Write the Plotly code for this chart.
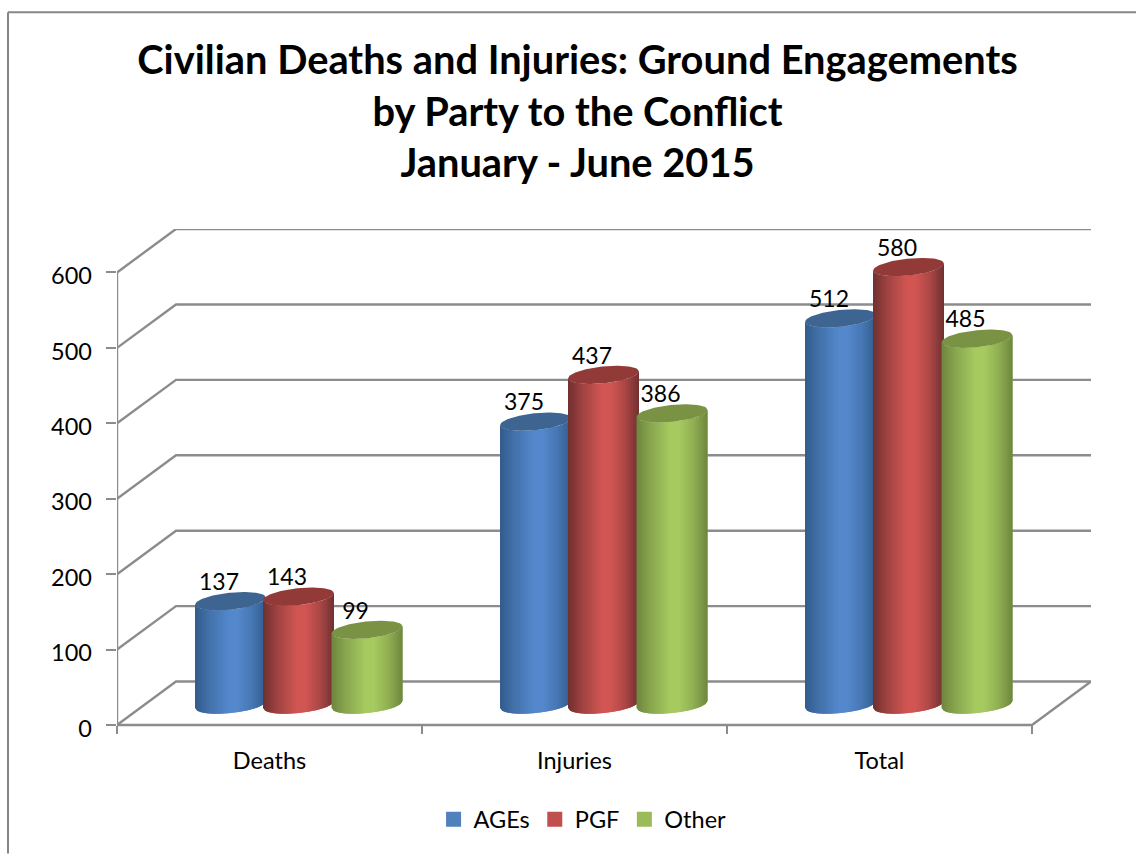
import plotly.graph_objects as go

categories = ["Deaths", "Injuries", "Total"]
series_names = ["AGEs", "PGF", "Other"]
ages = [137, 375, 512]
pgf = [143, 437, 580]
other = [99, 386, 485]
y_ticks = [0, 100, 200, 300, 400, 500, 600]
title_lines = ["Civilian Deaths and Injuries: Ground Engagements",
               "by Party to the Conflict", "January - June 2015"]

W, H = 1136, 854
PX_CAT = 305.0                        # pixels per category
PX_VAL = 0.755                        # pixels per value unit
L, T, Z = 117, 229, 725.5             # left, top, and pixel row of value 0
EXTRA = 8                             # plot box continues this far below value 0
B = Z + EXTRA
R = L + PX_CAT * len(categories) + 59
DX, DY = 59 / PX_CAT, 43.5 / PX_VAL   # depth offset in data units
GRID = "#8c8c8c"

STYLES = [
    dict(dark=(50, 92, 140), peak=(84, 136, 204), top=(62, 100, 146), swatch="#4f81bd"),
    dict(dark=(112, 48, 48), peak=(209, 86, 83), top=(146, 58, 56), swatch="#c0504d"),
    dict(dark=(110, 134, 62), peak=(166, 202, 96), top=(122, 146, 68), swatch="#9bbb59"),
]
OFFSETS = [113.5, 181.5, 250]         # cylinder centres within a category, px
A, E_B, E_S = 35.5, 8.5, 3.5          # ellipse half width, half height, tilt, px
BASE = 20.5 / PX_VAL                  # floor inset of cylinder base, data units
N_STRIPS = 36
STOPS = [(0, 0.0), (0.2, 0.48), (0.48, 1.0), (0.6, 1.0), (0.8, 0.62), (1, 0.0)]

fig = go.Figure()


def shade(t, st):
    for (t0, f0), (t1, f1) in zip(STOPS, STOPS[1:]):
        if t <= t1:
            f = f0 + (f1 - f0) * (t - t0) / (t1 - t0)
            break
    c = [round(d + (p - d) * f) for d, p in zip(st["dark"], st["peak"])]
    return f"rgb({c[0]},{c[1]},{c[2]})"


def front(u):
    return (E_B * max(0.0, 1 - u * u) ** 0.5 - E_S * u) / PX_VAL


def add_poly(xs, ys, color):
    fig.add_trace(go.Scatter(x=xs, y=ys, mode="lines", fill="toself", fillcolor=color,
                             line=dict(color=color, width=0), hoverinfo="skip",
                             showlegend=False))


# walls and floor
for v in y_ticks:
    fig.add_trace(go.Scatter(x=[0, DX, len(categories) + DX], y=[v, v + DY, v + DY],
                             mode="lines", line=dict(color=GRID, width=2.4),
                             hoverinfo="skip", showlegend=False))
fig.add_trace(go.Scatter(x=[0, 0, len(categories), len(categories) + DX],
                         y=[y_ticks[-1], 0, 0, DY], mode="lines",
                         line=dict(color=GRID, width=2.4), hoverinfo="skip", showlegend=False))

# cylinders
for ci in range(len(categories)):
    for si, values in enumerate([ages, pgf, other]):
        st = STYLES[si]
        v = values[ci]
        cx = ci + OFFSETS[si] / PX_CAT
        a = A / PX_CAT
        for k in range(N_STRIPS):
            t0 = k / N_STRIPS
            tm = (k + 1) / N_STRIPS
            t1 = min(k + 2, N_STRIPS) / N_STRIPS
            us = [2 * t - 1 for t in (t0, tm, t1)]
            xs = [cx + u * a for u in us] + [cx + u * a for u in reversed(us)]
            ys = [BASE + v - front(u) for u in us] + [BASE - front(u) for u in reversed(us)]
            add_poly(xs + xs[:1], ys + ys[:1], shade((t0 + tm) / 2, st))
        xs, ys = [], []
        n = 48
        for k in range(n + 1):
            u = -1 + 2 * k / n
            xs.append(cx + u * a)
            ys.append(BASE + v - front(u))
        for k in range(n + 1):
            u = 1 - 2 * k / n
            xs.append(cx + u * a)
            ys.append(BASE + v + (E_B * max(0.0, 1 - u * u) ** 0.5 + E_S * u) / PX_VAL)
        c = st["top"]
        add_poly(xs, ys, f"rgb({c[0]},{c[1]},{c[2]})")

# data labels
for si, values in enumerate([ages, pgf, other]):
    fig.add_trace(go.Scatter(
        x=[ci + (OFFSETS[si] - 11.5) / PX_CAT for ci in range(len(categories))],
        y=[BASE + v + 17 / PX_VAL for v in values],
        mode="text", text=[str(v) for v in values], textposition="middle center",
        textfont=dict(family="Lato", size=23, color="black"),
        cliponaxis=False, hoverinfo="skip", showlegend=False))

# legend entries
for si, name in enumerate(series_names):
    fig.add_trace(go.Scatter(x=[None], y=[None], mode="markers", name=name,
                             marker=dict(symbol="square", size=15, color=STYLES[si]["swatch"])))

# carrier for the tick-label axis (labels sit slightly below their tick marks)
fig.add_trace(go.Scatter(x=[None], y=[None], yaxis="y2", mode="markers",
                         showlegend=False, hoverinfo="skip"))

fig.add_shape(type="line", xref="paper", yref="paper", line=dict(color="#868686", width=2),
              x0=(8 - L) / (R - L), x1=(8 - L) / (R - L), y0=(B - H) / (B - T), y1=(B - 12) / (B - T))
fig.add_shape(type="line", xref="paper", yref="paper", line=dict(color="#868686", width=2),
              x0=(8 - L) / (R - L), x1=(W - L) / (R - L), y0=(B - 12) / (B - T), y1=(B - 12) / (B - T))

y_min = -EXTRA / PX_VAL
y_max = (Z - T) / PX_VAL
label_shift = 3.5 / PX_VAL
fig.update_layout(
    width=W, height=H, autosize=False, margin=dict(l=L, r=W - R, t=T, b=H - B, pad=0),
    paper_bgcolor="white", plot_bgcolor="white",
    font=dict(family="Lato", size=22.5, color="black"),
    title=dict(text="<br>".join(title_lines), x=577.5 / W, xanchor="center",
               y=1 - 74 / H, yanchor="top",
               font=dict(family="Lato", size=39.8, weight=700, color="black")),
    legend=dict(orientation="h", x=0.478, xref="paper", xanchor="center",
                y=(B - 820) / (B - T), yanchor="middle", font=dict(size=23.5)),
    xaxis=dict(range=[0, (R - L) / PX_CAT], tickvals=[i + 0.5 for i in range(len(categories))],
               ticktext=categories, showgrid=False, zeroline=False, showline=False, ticks="",
               anchor="free", position=EXTRA / (B - T),
               ticklabelstandoff=19, tickfont=dict(size=23.5),
               minor=dict(tickvals=list(range(len(categories) + 1)), ticks="outside", ticklen=8,
                          tickcolor=GRID, tickwidth=2, showgrid=False)),
    yaxis=dict(range=[y_min, y_max], tickvals=y_ticks, showgrid=False, zeroline=False,
               showline=False, ticks="outside", ticklen=10, tickcolor=GRID, tickwidth=2,
               showticklabels=False),
    yaxis2=dict(range=[y_min + label_shift, y_max + label_shift], overlaying="y", side="left",
                tickvals=y_ticks, showgrid=False, zeroline=False, showline=False, ticks="",
                ticklabelstandoff=24, tickfont=dict(family="Lato", size=23.5)),
)

fig.write_html("out.html", config={"displayModeBar": False},
               post_script="document.body.style.margin='0';document.body.style.overflow='hidden';")
